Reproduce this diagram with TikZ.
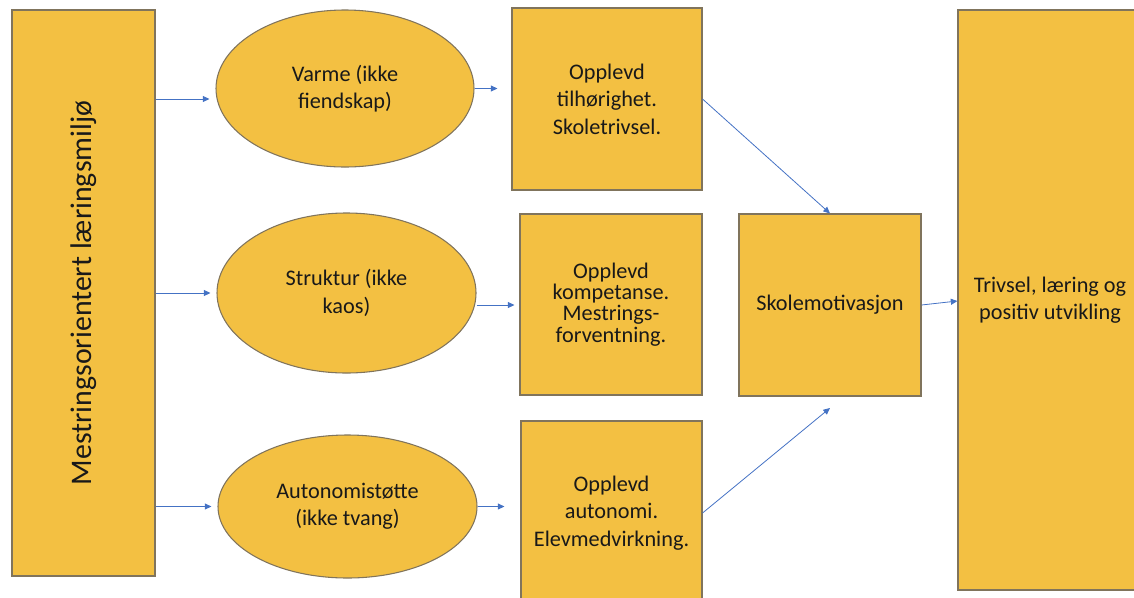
\documentclass[tikz,border=0pt]{standalone}
\usepackage{fontspec}
\setmainfont{Carlito}
\usetikzlibrary{shapes.geometric,arrows.meta}
\definecolor{gul}{RGB}{243,192,66}
\definecolor{kant}{RGB}{128,116,92}
\definecolor{pilblaa}{RGB}{68,114,196}
\begin{document}
\begin{tikzpicture}[x=0.75pt, y=-0.75pt]
	\tikzset{
	    boks/.style= {rectangle, draw=kant, fill=gul, line width=0.8pt, inner sep=0pt, align=center, text=black!90, font=\fontsize{16.7}{20.6}\selectfont},
	    ell/.style= {boks, ellipse},
	    sz/.style 2 args= {minimum width=#1*0.75pt, minimum height=#2*0.75pt},
	    pil/.style= {-{Triangle[length=5pt, width=4.5pt]}, draw=pilblaa, line width=0.6pt},
	}
	\useasboundingbox (0,0) rectangle (1134,597);
	\clip (0,0) rectangle (1134,597);
	
	\node[boks, sz={566}{143}, rotate=90, font=\fontsize{22.4}{27}\selectfont] (mest) at (83.5, 293) {Mestringsorientert læringsmiljø};
	
	\node[ell, sz={258}{157}] (va) at (345, 88.5) {Varme (ikke\\fiendskap)};
	\node[ell, sz={259}{160}] (st) at (346.5, 293) {Struktur (ikke\\kaos)};
	\node[ell, sz={259}{143}] (au) at (347.5, 506.5) {Autonomistøtte\\(ikke tvang)};
	
	\node[boks, sz={190}{182}] (tilh) at (607, 99) {Opplevd\\tilhørighet.\\Skoletrivsel.};
	\node[boks, sz={182}{181}, font=\fontsize{16.7}{16}\selectfont] (komp) at (611, 304.5) {Opplevd\\kompetanse.\\Mestrings-\\forventning.};
	\node[boks, sz={181}{184}] (auto) at (611.5, 513) {Opplevd\\autonomi.\\Elevmedvirkning.};
	
	\node[boks, sz={182}{182}] (skole) at (830, 305) {Skolemotivasjon};
	\node[boks, sz={184}{580}] (triv) at (1050, 300) {Trivsel, læring og\\positiv utvikling};
	
	\draw[pil, shorten >=4.5pt] (mest.south |- 0,99) -- (va.west |- 0,99);
	\draw[pil, shorten >=4.5pt] (mest.south |- st.west) -- (st.west);
	\draw[pil, shorten >=4.5pt] (mest.south |- au.west) -- (au.west);
	
	\draw[pil, shorten >=10.5pt] (va.east) -- (tilh.west |- va.east);
	\draw[pil, shorten >=3.75pt] (st.east |- 0,305) -- (komp.west |- 0,305);
	\draw[pil, shorten >=12pt] (au.east) -- (auto.west |- au.east);
	
	\draw[pil] (tilh.east) -- (skole.north);
	\draw[pil] (auto.east) -- (skole.south |- 0,408);
	\draw[pil] (skole.east) -- (triv.west |- 0,301);
\end{tikzpicture}
\end{document}
